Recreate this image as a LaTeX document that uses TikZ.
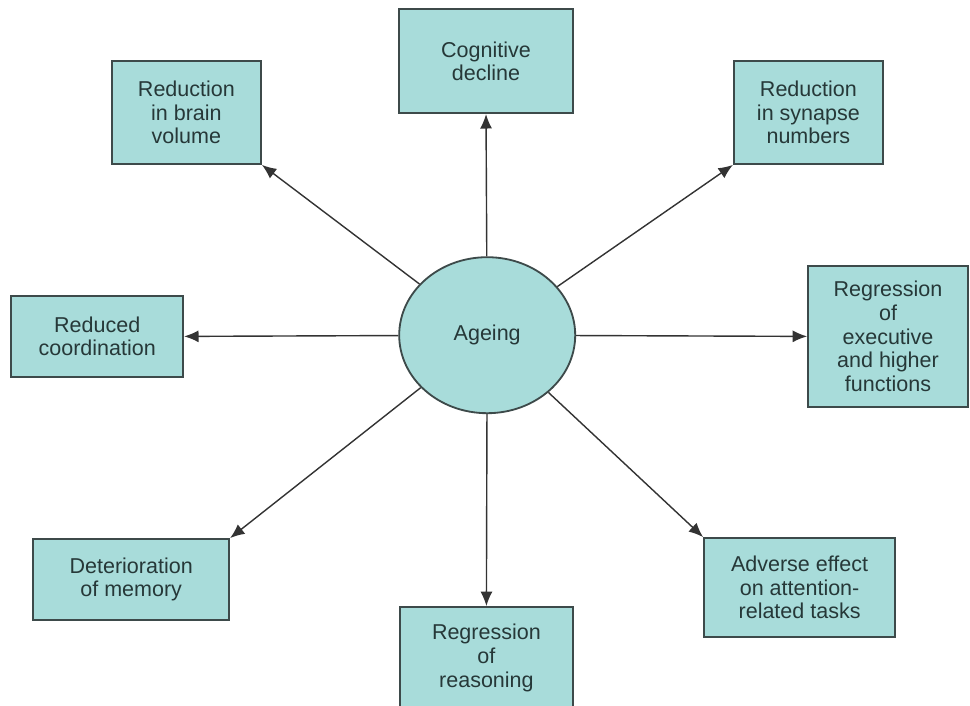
\documentclass[tikz,border=0pt]{standalone}
\usepackage{fontspec}
\setmainfont{Liberation Sans}
\usetikzlibrary{shapes.geometric, arrows.meta}
\definecolor{boxfill}{HTML}{A8DCDA}
\definecolor{boxline}{HTML}{3D4A4A}
\definecolor{boxtext}{HTML}{263838}
\definecolor{arrowline}{HTML}{333333}
\tikzset{
  effect/.style={rectangle, draw=boxline, fill=boxfill, text=boxtext, line width=1.3pt, align=center, inner sep=0pt,
    font=\fontsize{15.3}{16.8}\selectfont},
  cause/.style={ellipse, draw=boxline, fill=boxfill, text=boxtext, line width=1.3pt, inner sep=0pt,
    minimum width=4.4cm, minimum height=3.9cm, font=\fontsize{15.3}{16.8}\selectfont},
  link/.style={draw=arrowline, line width=1pt, -{Latex[length=3.6mm, width=3mm]}}
}
\begin{document}
\begin{tikzpicture}
\useasboundingbox (0, 0) rectangle (24.25, -17.65);
\clip (0, 0) rectangle (24.25, -17.65);

% centre
\node[cause] (ageing) at (12.18, -8.38) {Ageing};

% effects
\node[effect, minimum width=4.35cm, minimum height=2.6cm] (cognitive) at (12.15, -1.53) {Cognitive\\decline};
\node[effect, minimum width=3.73cm, minimum height=2.58cm] (brain) at (4.66, -2.81) {Reduction\\in brain\\volume};
\node[effect, minimum width=3.73cm, minimum height=2.58cm] (synapse) at (20.21, -2.81) {Reduction\\in synapse\\numbers};
\node[effect, minimum width=4.3cm, minimum height=2.03cm] (coordination) at (2.43, -8.41) {Reduced\\coordination};
\node[effect, minimum width=4.0cm, minimum height=3.53cm] (executive) at (22.2, -8.41) {Regression\\of\\executive\\and higher\\functions};
\node[effect, minimum width=4.9cm, minimum height=2.03cm] (memory) at (3.28, -14.49) {Deterioration\\of memory};
\node[effect, minimum width=4.33cm, minimum height=2.55cm] (reasoning) at (12.16, -16.45) {Regression\\of\\reasoning};
\node[effect, minimum width=4.78cm, minimum height=2.48cm] (attention) at (19.99, -14.69) {Adverse effect\\on attention-\\related tasks};

% arrows
\foreach \n/\a in {cognitive/south, brain/south east, synapse/south west, coordination/east,
                   executive/west, memory/north east, reasoning/north, attention/north west}
  \draw[link] (ageing) -- (\n.\a);
\end{tikzpicture}
\end{document}
